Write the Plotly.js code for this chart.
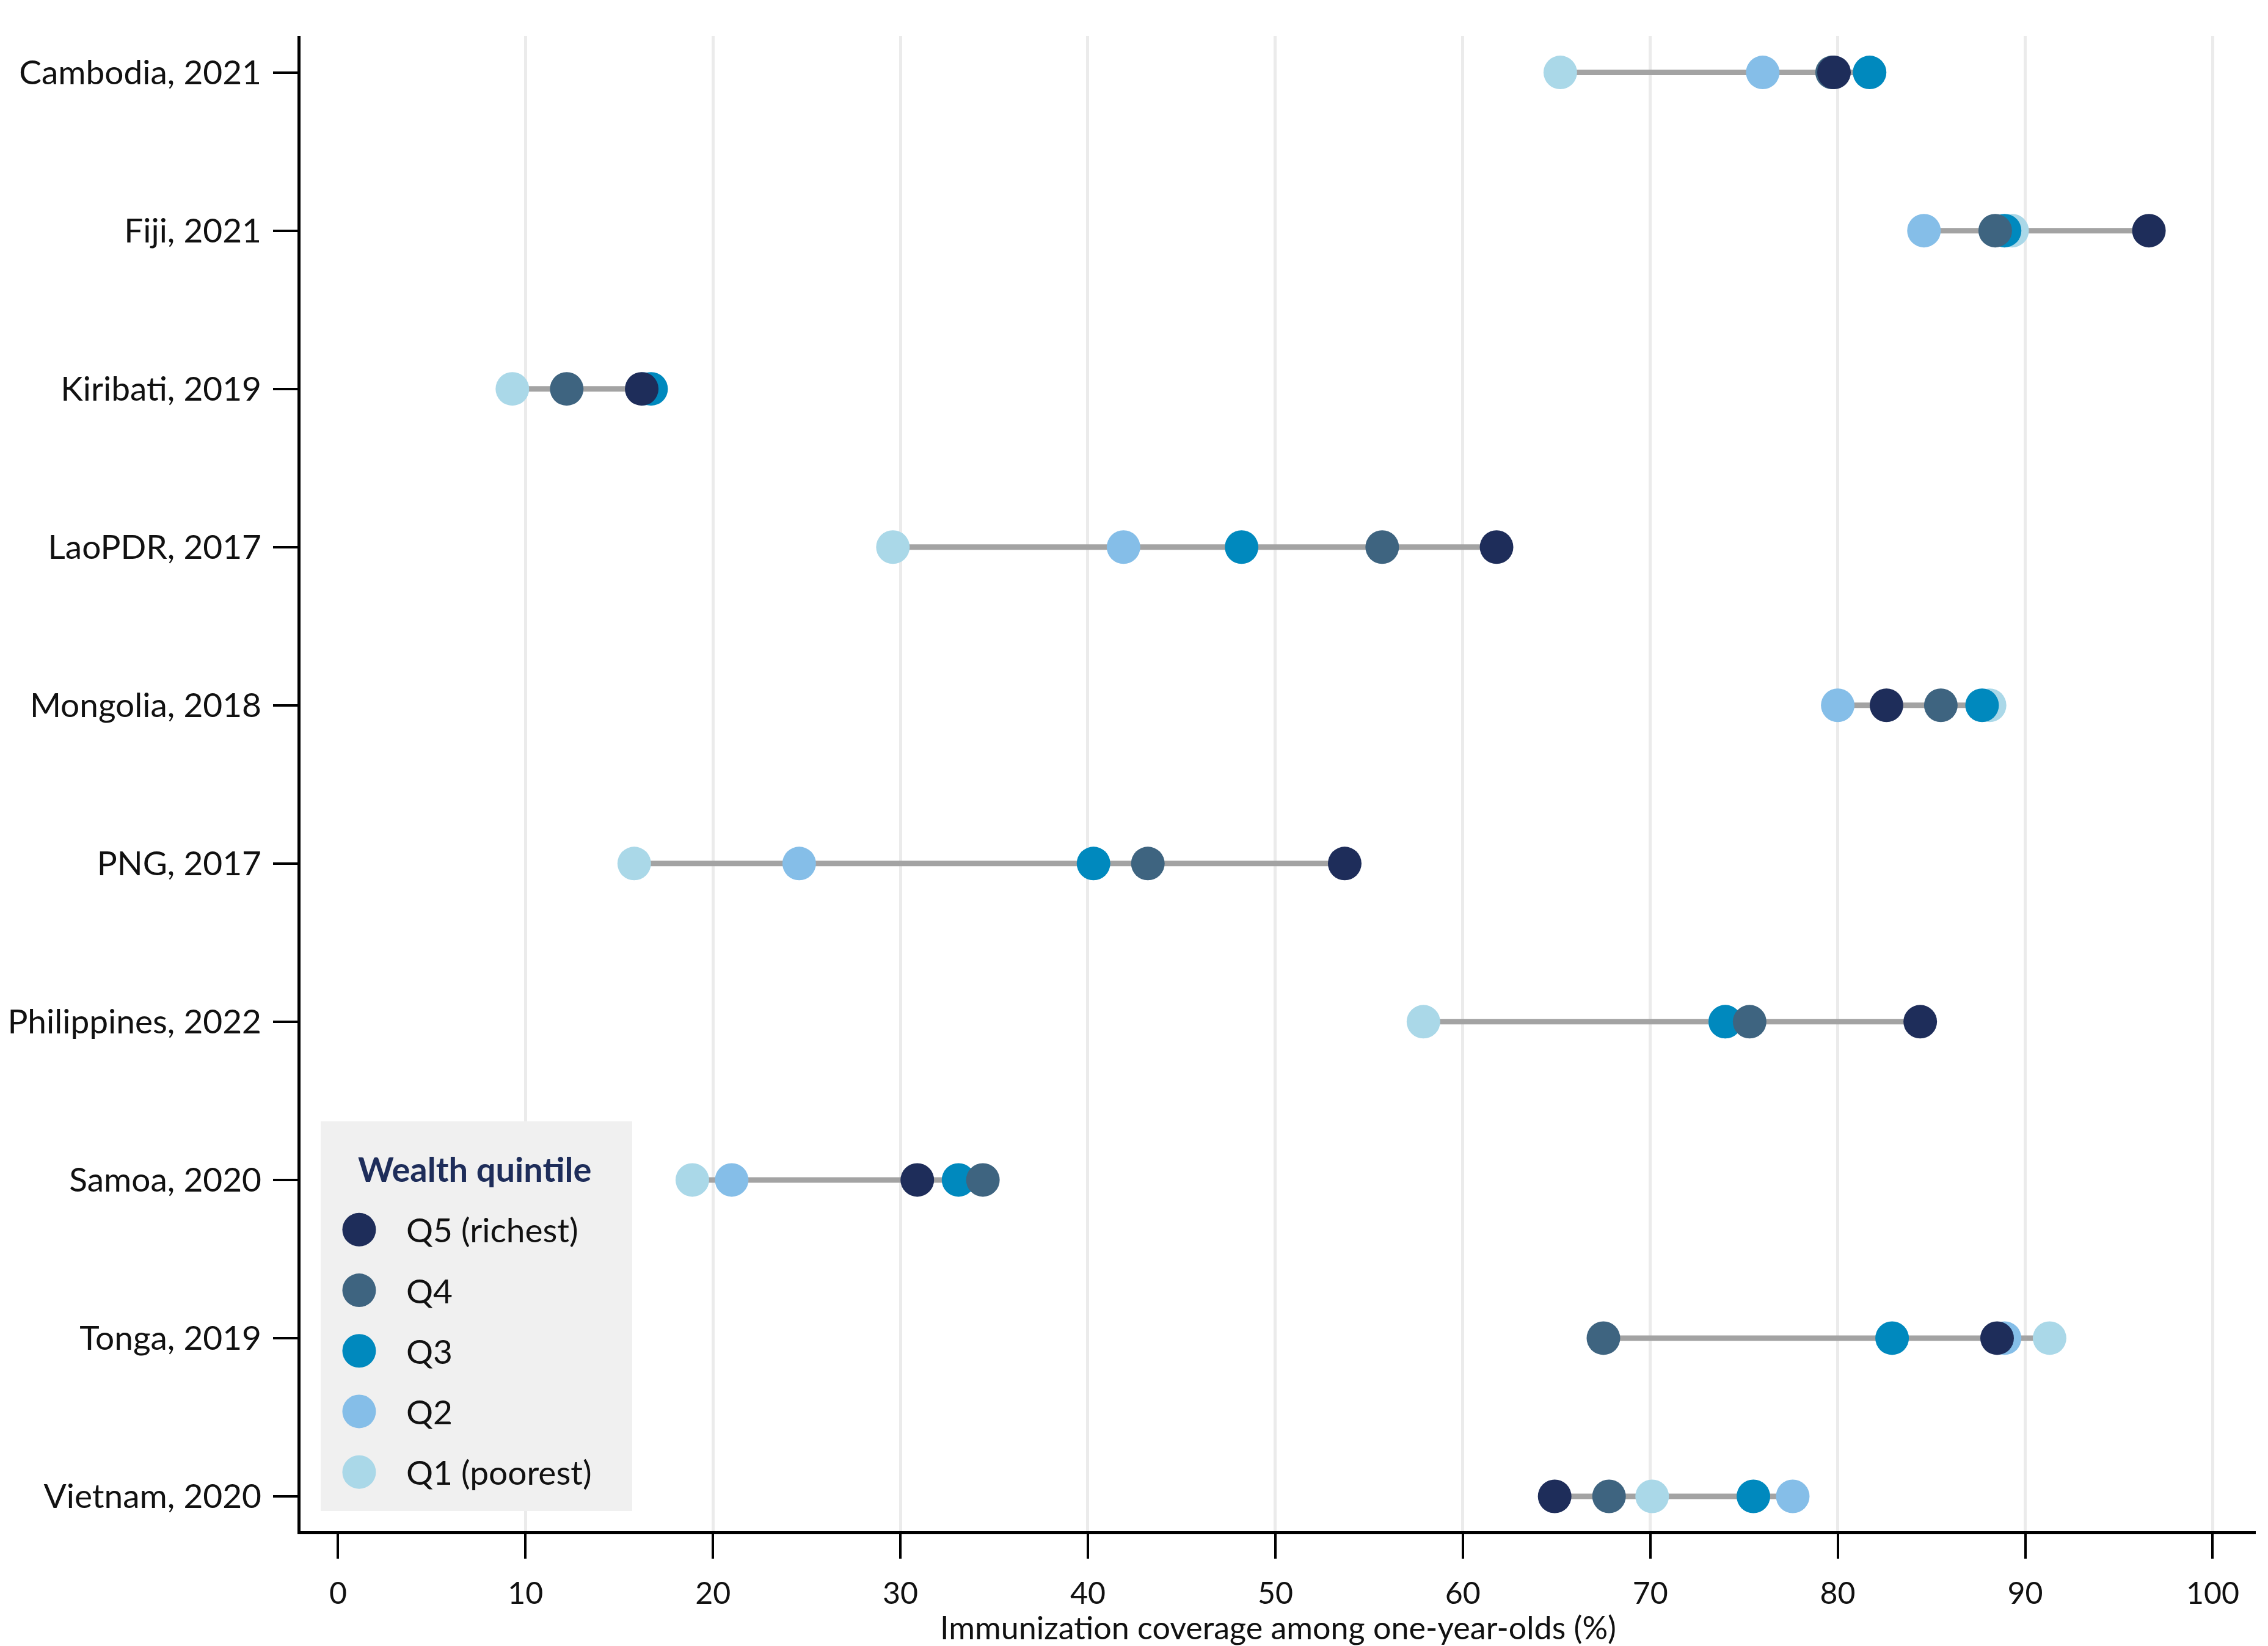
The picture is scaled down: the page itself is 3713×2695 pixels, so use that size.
<!DOCTYPE html>
<html><head><meta charset="utf-8">
<script src="https://cdn.plot.ly/plotly-3.0.1.min.js"></script>
<style>html,body{margin:0;padding:0;background:#fff}#chart{width:3713px;height:2695px}</style>
</head><body><div id="chart"></div>
<script>
// ---- data ----
const countries = ["Cambodia, 2021","Fiji, 2021","Kiribati, 2019","LaoPDR, 2017","Mongolia, 2018","PNG, 2017","Philippines, 2022","Samoa, 2020","Tonga, 2019","Vietnam, 2020"];
const q1 = [65.2, 89.3, 9.3, 29.6, 88.1, 15.8, 57.9, 18.9, 91.3, 70.1];
const q2 = [76.0, 84.6, 16.3, 41.9, 80.0, 24.6, 74.0, 21.0, 88.9, 77.6];
const q3 = [81.7, 88.9, 16.7, 48.2, 87.7, 40.3, 74.0, 33.1, 82.9, 75.5];
const q4 = [79.7, 88.4, 12.2, 55.7, 85.5, 43.2, 75.3, 34.4, 67.5, 67.8];
const q5 = [79.8, 96.6, 16.2, 61.8, 82.6, 53.7, 84.4, 30.9, 88.5, 64.9];
const quintileNames = ["Q1 (poorest)","Q2","Q3","Q4","Q5 (richest)"];
const quintileColors = ["#aad8e8","#85bee8","#0089be","#3e6480","#1e2d5a"];
const xTickVals = [0,10,20,30,40,50,60,70,80,90,100];
const legendTitle = "Wealth quintile";
const xTitle = "Immunization coverage among one-year-olds (%)";

// ---- build traces ----
const series = [q1,q2,q3,q4,q5];
const FONT = "Lato, 'Open Sans', sans-serif";
const lineX = [], lineY = [];
countries.forEach((c,i)=>{
  const v = series.map(s=>s[i]);
  lineX.push(Math.min(...v), Math.max(...v), null);
  lineY.push(c, c, null);
});
const traces = [{
  type:'scatter', mode:'lines', x:lineX, y:lineY,
  line:{color:'#a3a3a3', width:9}, showlegend:false, hoverinfo:'skip', cliponaxis:false
}];
series.forEach((s,k)=>{
  traces.push({type:'scatter', mode:'markers', x:s, y:countries, name:quintileNames[k],
    marker:{size:55, color:quintileColors[k], line:{width:0}}, showlegend:false, cliponaxis:false});
});

// custom legend (Q5 at top) on an invisible sub-axis
const legOrder = [4,3,2,1,0];
const legY = legOrder.map((k,j)=>0.722 - j*0.1555);
traces.push({type:'scatter', mode:'markers', xaxis:'x2', yaxis:'y2',
  x: legOrder.map(()=>0.1235), y: legY,
  marker:{size:55, color: legOrder.map(k=>quintileColors[k]), line:{width:0}},
  showlegend:false, hoverinfo:'skip', cliponaxis:false});

const annotations = legOrder.map((k,j)=>({
  xref:'x2', yref:'y2', x:0.27, y:legY[j], xanchor:'left', yanchor:'middle',
  text: quintileNames[k], showarrow:false, font:{family:FONT, size:55, color:'#111111'}
}));
annotations.push({xref:'x2', yref:'y2', x:0.494, y:0.878, xanchor:'center', yanchor:'middle',
  text:'<b>'+legendTitle+'</b>', showarrow:false, font:{family:FONT, size:56, color:'#1e2d5a'}});

const layout = {
  width:3713, height:2695,
  paper_bgcolor:'#ffffff', plot_bgcolor:'#ffffff',
  margin:{l:492, r:20, t:59, b:188, pad:0},
  font:{family:FONT, size:52, color:'#111111'},
  showlegend:false,
  xaxis:{
    range:[-2,102.3], tickvals:xTickVals, ticktext:xTickVals.map(String),
    showgrid:true, gridcolor:'#ebebeb', gridwidth:5,
    zeroline:true, zerolinecolor:'rgba(0,0,0,0)',
    showline:true, linecolor:'#000', linewidth:5, mirror:false,
    ticks:'outside', ticklen:40, tickwidth:4, tickcolor:'#000',
    ticklabelstandoff:14,
    tickfont:{family:FONT, size:50, color:'#111111'},
    title:{text:xTitle, font:{family:FONT, size:52, color:'#111111'}, standoff:0},
    fixedrange:true
  },
  yaxis:{
    type:'category', categoryorder:'array', categoryarray:countries,
    range:[9.22,-0.23], autorange:false,
    showgrid:false, zeroline:false,
    showline:true, linecolor:'#000', linewidth:5,
    ticks:'outside', ticklen:40, tickwidth:4, tickcolor:'#000',
    ticklabelstandoff:8,
    tickfont:{family:FONT, size:55, color:'#111111'},
    fixedrange:true
  },
  xaxis2:{domain:[0.0103,0.1696], range:[0,1], visible:false, anchor:'y2', fixedrange:true},
  yaxis2:{domain:[0.0135,0.2741], range:[0,1], visible:false, anchor:'x2', fixedrange:true},
  shapes:[{type:'rect', xref:'x2', yref:'y2', x0:0, x1:1, y0:0, y1:1,
    fillcolor:'#f0f0f0', line:{width:0}, layer:'below'}],
  annotations: annotations
};
Plotly.newPlot('chart', traces, layout, {staticPlot:true, displayModeBar:false});
</script>
</body></html>
